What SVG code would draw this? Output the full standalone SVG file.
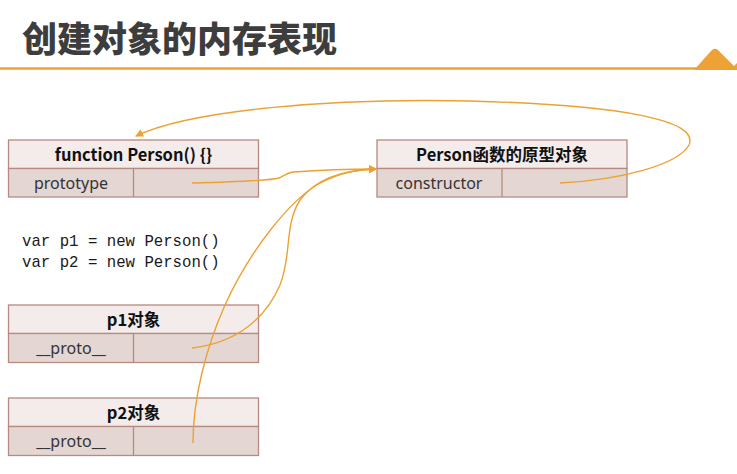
<svg xmlns="http://www.w3.org/2000/svg" width="737" height="474" viewBox="0 0 737 474">
  <style>
    .hdr { fill: #F3ECEB; stroke: #B68A80; stroke-width: 1.3; }
    .row { fill: #E4D6D3; stroke: #B68A80; stroke-width: 1.3; }
    .div { stroke: #B68A80; stroke-width: 1.3; }
    .htxt { font-family: "Noto Sans CJK SC", "Noto Sans", sans-serif; font-weight: bold; font-size: 16.5px; fill: #111; text-anchor: middle; }
    .ctxt { font-family: "Noto Sans", "Noto Sans CJK SC", sans-serif; font-size: 16px; fill: #333; text-anchor: middle; }
    .code { font-family: "Liberation Mono", "DejaVu Sans Mono", monospace; font-size: 15.7px; fill: #1a1a1a; }
    .conn { fill: none; stroke: #EBA231; stroke-width: 1.4; }
  </style>
  <defs>
    <marker id="arr" markerUnits="userSpaceOnUse" markerWidth="10" markerHeight="10" refX="7" refY="4" orient="auto">
      <path d="M0,0 L8,4 L0,8 Z" fill="#EBA231"/>
    </marker>
  </defs>

  <rect width="737" height="474" fill="#ffffff"/>

  <g id="title">
    <text x="22" y="52" font-family="'Noto Sans CJK SC', sans-serif" font-weight="900" font-size="35" fill="#3d3d3d">创建对象的内存表现</text>
    <line x1="0" y1="68.5" x2="737" y2="68.5" stroke="#EEA236" stroke-width="2.5"/>
    <path d="M694,70 L711,51 Q715,46.5 719,51 L734,66 L737,63 L737,70 Z" fill="#EEA236"/>
  </g>

  <g id="person-fn">
    <rect class="hdr" x="8.5" y="140" width="250" height="28.5"/>
    <rect class="row" x="8.5" y="168.5" width="250" height="28.5"/>
    <line class="div" x1="133.5" y1="168.5" x2="133.5" y2="197"/>
    <text class="htxt" x="133.5" y="160.5">function Person() {}</text>
    <text class="ctxt" x="71" y="189">prototype</text>
  </g>

  <g id="person-proto">
    <rect class="hdr" x="377" y="140" width="250" height="28.5"/>
    <rect class="row" x="377" y="168.5" width="250" height="28.5"/>
    <line class="div" x1="502" y1="168.5" x2="502" y2="197"/>
    <text class="htxt" x="502" y="160.5">Person函数的原型对象</text>
    <text class="ctxt" x="439" y="189">constructor</text>
  </g>

  <g id="code">
    <text class="code" x="22" y="246">var p1 = new Person()</text>
    <text class="code" x="22" y="267">var p2 = new Person()</text>
  </g>

  <g id="p1">
    <rect class="hdr" x="8.5" y="305" width="250" height="28.5"/>
    <rect class="row" x="8.5" y="333.5" width="250" height="29"/>
    <line class="div" x1="133.5" y1="333.5" x2="133.5" y2="362.5"/>
    <text class="htxt" x="133.5" y="326">p1对象</text>
    <text class="ctxt" x="71" y="354">__proto__</text>
  </g>

  <g id="p2">
    <rect class="hdr" x="8.5" y="398" width="250" height="28.5"/>
    <rect class="row" x="8.5" y="426.5" width="250" height="29"/>
    <line class="div" x1="133.5" y1="426.5" x2="133.5" y2="455.5"/>
    <text class="htxt" x="133.5" y="419">p2对象</text>
    <text class="ctxt" x="71" y="447">__proto__</text>
  </g>

  <g id="connectors">
    <path class="conn" marker-end="url(#arr)" d="M192,183 C230,182 268,181 279,178 C284,176 286,173 293,172 C320,170 350,169 376,169"/>
    <path class="conn" marker-end="url(#arr)" d="M560,183 C620,180 678,165 689,145 C700,120 620,105 470,101 C330,98 190,110 136,136"/>
    <path class="conn" marker-end="url(#arr)" d="M192,348 C235,343 265,320 280,285 C292,255 284,225 300,200 C315,180 340,170 376,169"/>
    <path class="conn" marker-end="url(#arr)" d="M193,443 C193,400 205,350 225,305 C250,250 290,200 320,183 C340,173 355,170 376,169"/>
  </g>
</svg>
